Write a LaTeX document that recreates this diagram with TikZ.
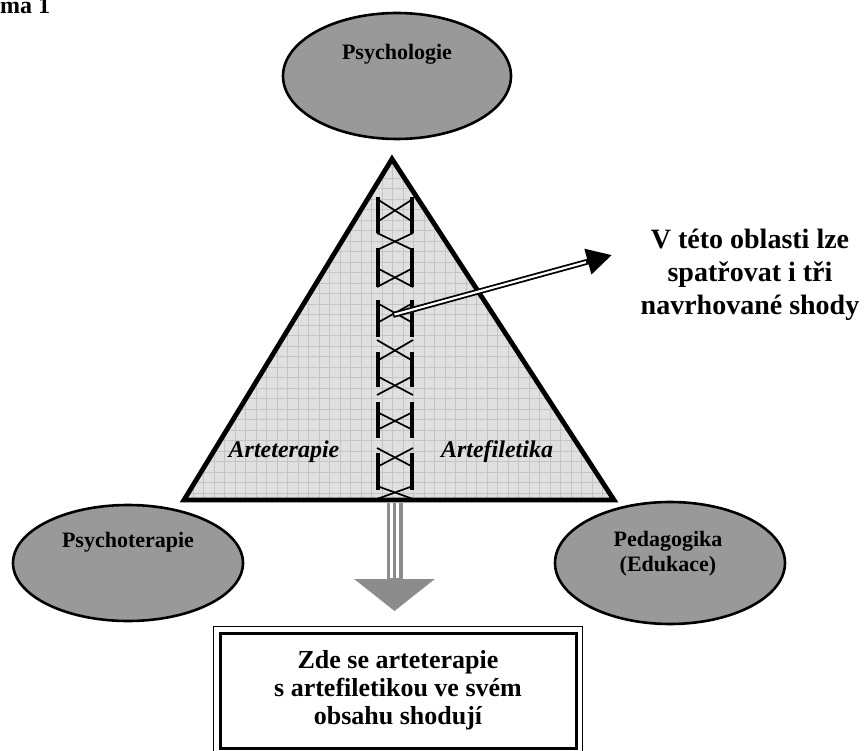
\documentclass[tikz,border=0pt]{standalone}
\usepackage{fontspec}
\setmainfont{Liberation Serif}
\usetikzlibrary{shapes.geometric,arrows.meta}
\definecolor{ellgray}{HTML}{999999}
\definecolor{trifill}{HTML}{E0E0E0}
\definecolor{gridc}{HTML}{C4C4C4}
\definecolor{arrgray}{HTML}{8C8C8C}
\begin{document}
\begin{tikzpicture}[x=1pt,y=-1pt,
  ell/.style={ellipse, draw=black, line width=2.6pt, fill=ellgray, inner sep=0pt},
  lbl/.style={font=\bfseries\fontsize{22}{25}\selectfont, align=center, inner sep=0pt},
  ilbl/.style={font=\bfseries\itshape\fontsize{24}{26}\selectfont, inner sep=0pt},
  bigtxt/.style={font=\bfseries\fontsize{28}{33}\selectfont, align=center, inner sep=0pt},
  boxtxt/.style={font=\bfseries\fontsize{26}{28}\selectfont, align=center},
  ladbar/.style={line width=3.6pt},
  xline/.style={line width=1.7pt},
]
\useasboundingbox (0,0) rectangle (867,751);

% caption fragment
\node[anchor=base west, inner sep=0pt, font=\bfseries\fontsize{24}{26}\selectfont] (cap) at (0,14) {ma 1};

% ellipses
\node[ell, minimum width=228pt, minimum height=126pt] (psy) at (397,76) {};
\node[lbl] (psyt) at (397,54) {Psychologie};
\node[ell, minimum width=230pt, minimum height=116pt] (pth) at (128,563) {};
\node[lbl] (ptht) at (128,542) {Psychoterapie};
\node[ell, minimum width=230pt, minimum height=122pt] (ped) at (670,563) {};
\node[lbl] (pedt) at (668,554) {Pedagogika\\(Edukace)};

% triangle
\coordinate (tA) at (392,159);
\coordinate (tB) at (184,500);
\coordinate (tC) at (614,500);
\fill[trifill] (tA) -- (tB) -- (tC) -- cycle;
\begin{scope}
  \clip (tA) -- (tB) -- (tC) -- cycle;
  \foreach \gx in {172,182.5,...,620} \draw[gridc, line width=0.8pt] (\gx,150) -- (\gx,505);
  \foreach \gy in {157,167.5,...,505} \draw[gridc, line width=0.8pt] (170,\gy) -- (620,\gy);
\end{scope}
\draw[line width=4.8pt, line join=miter] (tA) -- (tB) -- (tC) -- cycle;

% ladder column
\foreach \a/\b in {197/233, 248/287, 300/337, 352/387, 402/438, 453/490} {
  \draw[ladbar] (378,\a) -- (378,\b);
  \draw[ladbar] (412,\a) -- (412,\b);
}
\foreach \a/\b in {199/222, 233/250, 268/287, 303/323, 340/361, 376/395, 412/430, 448/467, 486/499} {
  \draw[xline] (377,\a) -- (413,\b);
  \draw[xline] (413,\a) -- (377,\b);
}

\node[ilbl] (arte) at (284,452) {Arteterapie};
\node[ilbl] (artf) at (497,452) {Artefiletika};

% double arrow to the right
\coordinate (arrS) at (393,315);
\coordinate (arrT) at (612,255);
\draw[line width=5.8pt, -{Triangle[length=25pt,width=25pt]}] (arrS) -- (arrT);
\draw[white, line width=2.2pt, shorten >=27pt, shorten <=1.5pt] (arrS) -- (arrT);
\node[bigtxt] (note) at (750,275) {V této oblasti lze\\spatřovat i tři\\navrhované shody};

% grey downward arrow
\coordinate (dnS) at (394.5,503);
\coordinate (dnT) at (394.5,611);
\draw[arrgray, line width=16pt, -{Triangle[length=32pt,width=79pt]}] (dnS) -- (dnT);
\draw[white, line width=2.6pt, shorten >=33pt] ([xshift=-3pt]dnS) -- ([xshift=-3pt]dnT);
\draw[white, line width=3pt, shorten >=33pt] ([xshift=2.6pt]dnS) -- ([xshift=2.6pt]dnT);

% bottom box
\node[draw, line width=3pt, minimum width=356pt, minimum height=115pt, boxtxt] (box) at (398,690.5)
  {Zde se arteterapie\\s artefiletikou ve svém\\obsahu shodují};
\draw[line width=1.6pt] ([shift={(-5,5)}]box.south west) rectangle ([shift={(5,-5)}]box.north east);
\end{tikzpicture}
\end{document}
